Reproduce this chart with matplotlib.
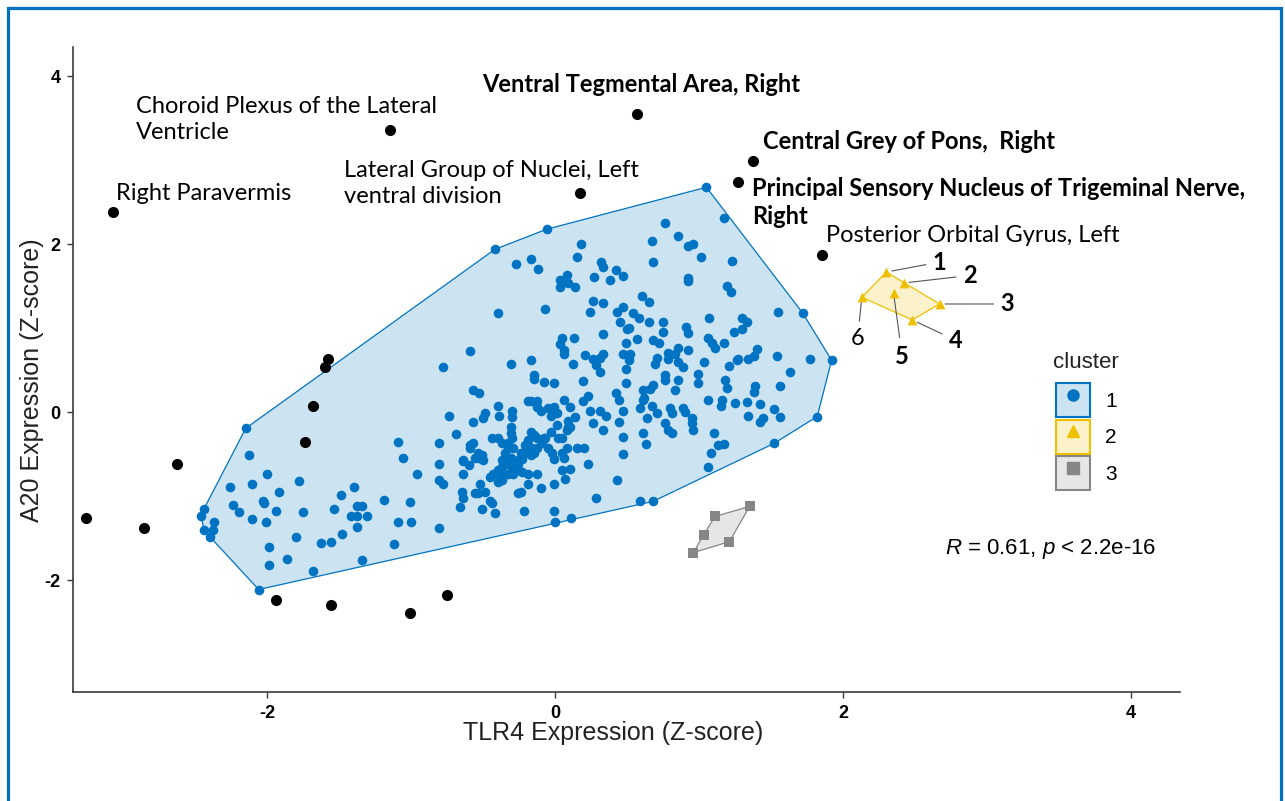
import numpy as np
import matplotlib.pyplot as plt
from matplotlib.patches import Polygon, Patch, Rectangle
from matplotlib.lines import Line2D

plt.rcParams['font.family'] = ['Liberation Sans', 'DejaVu Sans']
plt.rcParams['axes.unicode_minus'] = False
plt.rcParams['mathtext.fontset'] = 'custom'
plt.rcParams['mathtext.it'] = 'Liberation Sans:italic'
plt.rcParams['mathtext.rm'] = 'Liberation Sans'

# cluster 1 (TLR4 z-score, A20 z-score)
cluster1 = [
    (-0.59, 0.73), (-0.78, 0.54), (-0.57, 0.26), (-0.74, -0.04), (-0.57, -0.11), (-0.69, -0.26),
    (-1.09, -0.35), (-0.81, -0.37), (-0.59, -0.39), (-1.06, -0.54), (-0.81, -0.61), (-0.64, -0.58),
    (-0.60, -0.63), (-0.96, -0.73), (-0.64, -0.73), (-0.81, -0.81), (-0.78, -0.85), (-0.56, -0.54),
    (-0.65, -0.95), (-0.64, -1.02), (-0.66, -1.13), (-0.56, -0.96), (-1.01, -1.07), (-1.19, -1.04),
    (-1.09, -1.31), (-1.00, -1.31), (-0.81, -1.38), (-1.12, -1.57), (-1.40, -0.89), (-1.49, -0.98),
    (-1.38, -1.11), (-1.34, -1.12), (-1.42, -1.24), (-1.38, -1.24), (-1.31, -1.24), (-1.38, -1.37),
    (-1.54, -1.15), (-1.48, -1.45), (-1.56, -1.54), (-1.63, -1.55), (-1.80, -1.49), (-1.34, -1.76),
    (-1.68, -1.89), (-1.78, -0.82), (-1.75, -1.19), (-1.92, -0.95), (-1.94, -1.17), (-2.03, -1.06),
    (-2.02, -1.08), (-2.00, -0.73), (-2.11, -0.85), (-2.13, -0.51), (-2.26, -0.89), (-2.24, -1.10),
    (-2.20, -1.19), (-2.11, -1.27), (-2.01, -1.31), (-1.99, -1.60), (-1.86, -1.75), (-1.99, -1.82),
    (-2.44, -1.15), (-2.46, -1.23), (-2.37, -1.31), (-2.44, -1.40), (-2.38, -1.40), (-2.40, -1.48),
    (-2.15, -0.19), (-2.06, -2.11),
    (-0.40, 1.18), (-0.07, 1.23), (0.24, 1.19), (0.26, 1.32), (0.33, 1.30), (0.43, 1.19),
    (0.47, 1.25), (0.45, 1.07), (0.54, 1.18), (0.58, 1.12), (0.65, 1.31), (0.65, 1.07),
    (0.51, 1.01), (0.50, 0.99), (0.33, 0.93), (0.13, 0.89), (0.05, 0.89), (0.03, 0.81),
    (0.06, 0.74), (0.06, 0.70), (0.57, 0.87), (0.49, 0.82), (0.68, 0.86), (-0.31, 0.58),
    (-0.17, 0.62), (0.12, 0.58), (0.21, 0.68), (0.26, 0.63), (0.33, 0.70), (0.31, 0.65),
    (0.28, 0.56), (0.31, 0.48), (0.47, 0.70), (0.51, 0.62), (0.52, 0.70), (0.49, 0.52),
    (0.69, 0.58), (-0.15, 0.44), (-0.15, 0.40), (-0.08, 0.36), (-0.01, 0.35), (0.19, 0.37),
    (-0.53, 0.23), (-0.19, 0.14), (-0.17, 0.14), (-0.13, 0.14), (0.06, 0.15), (0.23, 0.20),
    (0.19, 0.14), (0.42, 0.23), (0.49, 0.35), (0.44, 0.15), (0.61, 0.26), (0.66, 0.28),
    (0.68, 0.32), (0.61, 0.15), (0.67, 0.08), (0.47, 0.02), (0.59, 0.05), (0.71, -0.01),
    (0.64, -0.07), (-0.40, 0.08), (-0.39, -0.04), (-0.49, -0.01), (-0.50, -0.07), (-0.30, 0.02),
    (-0.30, -0.06), (-0.13, 0.06), (-0.10, 0.02), (-0.05, 0.05), (-0.01, 0.06), (0.01, -0.01),
    (-0.03, -0.04), (0.10, 0.06), (0.14, -0.06), (0.09, -0.10), (0.09, -0.18), (0.24, 0.02),
    (0.31, 0.02), (0.35, -0.04), (0.26, -0.13), (0.33, -0.21), (0.44, -0.11), (0.47, -0.29),
    (0.61, -0.25), (0.63, -0.38), (0.47, -0.50), (0.43, -0.81), (0.23, -0.61), (0.01, -0.15),
    (-0.03, -0.24), (0.02, -0.30), (0.05, -0.31), (0.08, -0.42), (0.15, -0.43), (0.20, -0.42),
    (-0.05, -0.43), (-0.02, -0.49), (-0.01, -0.55), (0.05, -0.69), (0.10, -0.67), (0.07, -0.79),
    (-0.01, -0.85), (-0.13, -0.73), (-0.10, -0.90), (-0.19, -0.85), (0.28, -1.02), (-0.01, -1.17),
    (-0.22, -1.17), (-0.42, -1.20), (-0.51, -1.15), (0.59, -1.05), (0.68, -1.06), (0.11, -1.26),
    (0.00, -1.31),
    (-0.17, -0.24), (-0.15, -0.27), (-0.13, -0.30), (-0.19, -0.33), (-0.21, -0.39), (-0.16, -0.42),
    (-0.13, -0.42), (-0.09, -0.37), (-0.08, -0.31), (-0.24, -0.48), (-0.21, -0.49), (-0.17, -0.51),
    (-0.15, -0.48), (-0.23, -0.55), (-0.26, -0.57), (-0.31, -0.54), (-0.29, -0.43), (-0.33, -0.43),
    (-0.35, -0.49), (-0.37, -0.57), (-0.33, -0.61), (-0.37, -0.65), (-0.40, -0.69), (-0.43, -0.73),
    (-0.38, -0.75), (-0.40, -0.83), (-0.45, -0.77), (-0.37, -0.81), (-0.33, -0.73), (-0.29, -0.73),
    (-0.26, -0.69), (-0.23, -0.71), (-0.19, -0.73), (-0.30, -0.65), (-0.26, -0.61), (-0.59, -0.42),
    (-0.57, -0.37), (-0.64, -0.57), (-0.53, -0.54), (-0.51, -0.51), (-0.50, -0.57), (-0.54, -0.49),
    (-0.44, -0.31), (-0.40, -0.30), (-0.31, -0.25), (-0.31, -0.18), (-0.30, -0.30), (-0.33, -0.37),
    (-0.37, -0.36), (-0.52, -0.85), (-0.54, -0.96), (-0.49, -0.95), (-0.45, -1.05), (-0.44, -1.08),
    (-0.24, -0.95), (-0.26, -0.96), (-0.07, -0.30), (0.08, -0.21), (0.10, -0.18), (0.05, -0.48),
    (0.06, -0.54),
    (0.92, 1.56), (1.19, 1.50), (1.22, 1.43), (0.60, 1.39), (0.75, 1.07), (0.75, 0.96),
    (0.91, 1.02), (0.92, 0.94), (1.07, 1.12), (1.30, 1.12), (1.33, 1.07), (1.24, 0.96),
    (1.30, 0.99), (1.55, 1.19), (1.72, 1.18), (0.72, 0.82), (0.71, 0.65), (0.78, 0.64),
    (0.78, 0.71), (0.85, 0.77), (0.83, 0.70), (0.85, 0.60), (0.89, 0.54), (0.92, 0.74),
    (1.06, 0.88), (1.09, 0.83), (1.11, 0.77), (1.17, 0.82), (1.03, 0.60), (0.99, 0.46),
    (0.99, 0.35), (0.76, 0.44), (0.76, 0.39), (0.85, 0.38), (0.83, 0.26), (1.21, 0.55),
    (1.26, 0.62), (1.27, 0.64), (1.34, 0.63), (1.38, 0.67), (1.40, 0.76), (1.54, 0.67),
    (1.77, 0.64), (1.92, 0.62), (1.63, 0.48), (1.18, 0.38), (1.19, 0.29), (1.39, 0.31),
    (1.38, 0.24), (1.56, 0.31), (1.06, 0.15), (1.16, 0.15), (1.15, 0.08), (1.25, 0.11),
    (1.33, 0.12), (1.42, 0.10), (1.34, -0.04), (1.42, -0.12), (1.44, -0.07), (1.52, 0.04),
    (1.56, -0.05), (1.82, -0.05), (1.10, -0.25), (1.13, -0.39), (1.17, -0.38), (1.08, -0.48),
    (1.06, -0.65), (1.52, -0.37), (0.62, 0.17), (0.80, 0.05), (0.81, -0.01), (0.89, 0.05),
    (0.90, 0.00), (0.76, -0.13), (0.78, -0.21), (0.81, -0.25), (0.95, -0.07), (0.95, -0.13),
    (0.96, -0.21),
    (1.05, 2.68), (-0.06, 2.18), (-0.42, 1.94), (1.17, 2.31), (0.76, 2.26), (0.85, 2.10),
    (0.92, 1.98), (0.96, 2.01), (1.01, 1.85), (1.23, 1.80), (0.67, 2.04), (0.68, 1.79),
    (0.92, 1.60), (0.18, 2.01), (0.15, 1.85), (-0.27, 1.77), (-0.17, 1.82), (-0.12, 1.71),
    (0.32, 1.79), (0.33, 1.73), (0.42, 1.70), (0.47, 1.62), (0.27, 1.61), (0.38, 1.58),
    (0.08, 1.63), (0.03, 1.57), (0.03, 1.49), (0.09, 1.54), (0.14, 1.49),
]
cluster2 = [(2.30, 1.67), (2.42, 1.54), (2.67, 1.29), (2.48, 1.10), (2.35, 1.42), (2.13, 1.37)]
cluster2_ids = ['1', '2', '3', '4', '5', '6']
cluster3 = [(1.35, -1.12), (1.11, -1.24), (1.03, -1.46), (1.21, -1.54), (0.96, -1.67)]

# regions outside the clusters (black)
outliers = [
    (-3.07, 2.39), (-1.15, 3.36), (0.17, 2.61), (0.57, 3.55), (1.375, 2.99), (1.27, 2.74),
    (1.85, 1.87), (-1.58, 0.64), (-1.60, 0.54), (-1.68, 0.07), (-1.74, -0.35), (-2.63, -0.62),
    (-3.26, -1.26), (-2.86, -1.38), (-1.94, -2.23), (-1.56, -2.30), (-1.01, -2.39), (-0.75, -2.17),
]

region_labels = [
    ("Choroid Plexus of the Lateral\nVentricle", -2.91, 3.49, 'normal'),
    ("Ventral Tegmental Area, Right", -0.51, 3.90, 'bold'),
    ("Lateral Group of Nuclei, Left\nventral division", -1.47, 2.73, 'normal'),
    ("Right Paravermis", -3.05, 2.60, 'normal'),
    ("Central Grey of Pons,  Right", 1.44, 3.23, 'bold'),
    ("Principal Sensory Nucleus of Trigeminal Nerve,", 1.37, 2.67, 'bold'),
    ("Right", 1.37, 2.33, 'bold'),
    ("Posterior Orbital Gyrus, Left", 1.88, 2.10, 'normal'),
]
id_text_pos = [(2.67, 1.79), (2.88, 1.63), (3.14, 1.29), (2.78, 0.86), (2.41, 0.67), (2.10, 0.88)]
id_weights = ['bold', 'bold', 'bold', 'bold', 'bold', 'normal']

colors = ['#0073C2', '#EFC000', '#868686']
markers = ['o', '^', 's']


def convex_hull(points):
    pts = sorted(set(points))
    def cross(o, a, b):
        return (a[0] - o[0]) * (b[1] - o[1]) - (a[1] - o[1]) * (b[0] - o[0])
    lower, upper = [], []
    for p in pts:
        while len(lower) >= 2 and cross(lower[-2], lower[-1], p) <= 0:
            lower.pop()
        lower.append(p)
    for p in reversed(pts):
        while len(upper) >= 2 and cross(upper[-2], upper[-1], p) <= 0:
            upper.pop()
        upper.append(p)
    return lower[:-1] + upper[:-1]


fig = plt.figure(figsize=(12.85, 8.01), dpi=100)
ax = fig.add_axes([73 / 1285, 109 / 801, 1107 / 1285, 645 / 801])
ax.set_xlim(-3.35, 4.34)
ax.set_ylim(-3.33, 4.35)

for pts, c, m, s in zip([cluster1, cluster2, cluster3], colors, markers, [48, 50, 42]):
    hull = convex_hull(pts)
    rgb = plt.matplotlib.colors.to_rgb(c)
    ax.add_patch(Polygon(hull, closed=True, facecolor=rgb + (0.2,), edgecolor=c, lw=0.9, zorder=1))
    arr = np.array(pts)
    ax.scatter(arr[:, 0], arr[:, 1], s=s, marker=m, color=c, linewidths=0, zorder=3)

out = np.array(outliers)
ax.scatter(out[:, 0], out[:, 1], s=64, color='black', linewidths=0, zorder=4)

for txt, x, y, w in region_labels:
    ax.text(x, y, txt, family=['Lato', 'DejaVu Sans'], fontsize=17, fontweight=w,
            ha='left', va='center', linespacing=1.3, zorder=5)

for (px, py), lab, (tx, ty), w in zip(cluster2, cluster2_ids, id_text_pos, id_weights):
    ax.annotate(lab, xy=(px, py), xytext=(tx, ty), family=['Lato', 'DejaVu Sans'],
                fontsize=17, fontweight=w, ha='center', va='center', zorder=5,
                arrowprops=dict(arrowstyle='-', color='#555555', lw=0.8, shrinkA=3, shrinkB=4))

ax.text(2.71, -1.63, r"$\it{R}$ = 0.61, $\it{p}$ < 2.2e-16", fontsize=16, ha='left', va='center')

for side in ['top', 'right']:
    ax.spines[side].set_visible(False)
for side in ['left', 'bottom']:
    ax.spines[side].set_color('#3a3a3a')
    ax.spines[side].set_linewidth(1.2)
ax.set_xticks([-2, 0, 2, 4])
ax.set_yticks([-2, 0, 2, 4])
ax.tick_params(length=4, width=1, color='#3a3a3a', labelsize=13, labelcolor='black', pad=5)
for lbl in ax.get_xticklabels() + ax.get_yticklabels():
    lbl.set_fontweight('bold')
ax.set_xlabel('TLR4 Expression (Z-score)', fontsize=18, color='#222222')
ax.set_ylabel('A20 Expression (Z-score)', fontsize=18, color='#222222')
ax.xaxis.set_label_coords(0.488, -0.0636)
ax.xaxis.label.set_va('center')
ax.yaxis.set_label_coords(-0.037, 0.484)
ax.yaxis.label.set_va('center')

# legend: title as its own text so the gap to the keys matches
fig.text(1053 / 1285, 1 - 362 / 801, 'cluster', fontsize=16, color='#222222', ha='left', va='center')
handles = []
for c, m in zip(colors, markers):
    rgb = plt.matplotlib.colors.to_rgb(c)
    handles.append((Patch(facecolor=rgb + (0.2,), edgecolor=c, lw=1.5),
                    Line2D([], [], ls='', marker=m, color=c, ms=8)))
ax.legend(handles, ['1', '2', '3'], loc='upper left',
          bbox_to_anchor=(1056 / 1285, 1 - 383 / 801), bbox_transform=fig.transFigure,
          frameon=False, fontsize=15, handlelength=1.65, handleheight=2.14,
          labelspacing=0.12, handletextpad=0.7, borderpad=0, borderaxespad=0)

fig.add_artist(Rectangle((8 / 1285, -0.1), 1273 / 1285, 1.1 - 8 / 801, transform=fig.transFigure,
                         fill=False, edgecolor='#0070C0', lw=2.3))

fig.savefig('out.png', dpi=100)
